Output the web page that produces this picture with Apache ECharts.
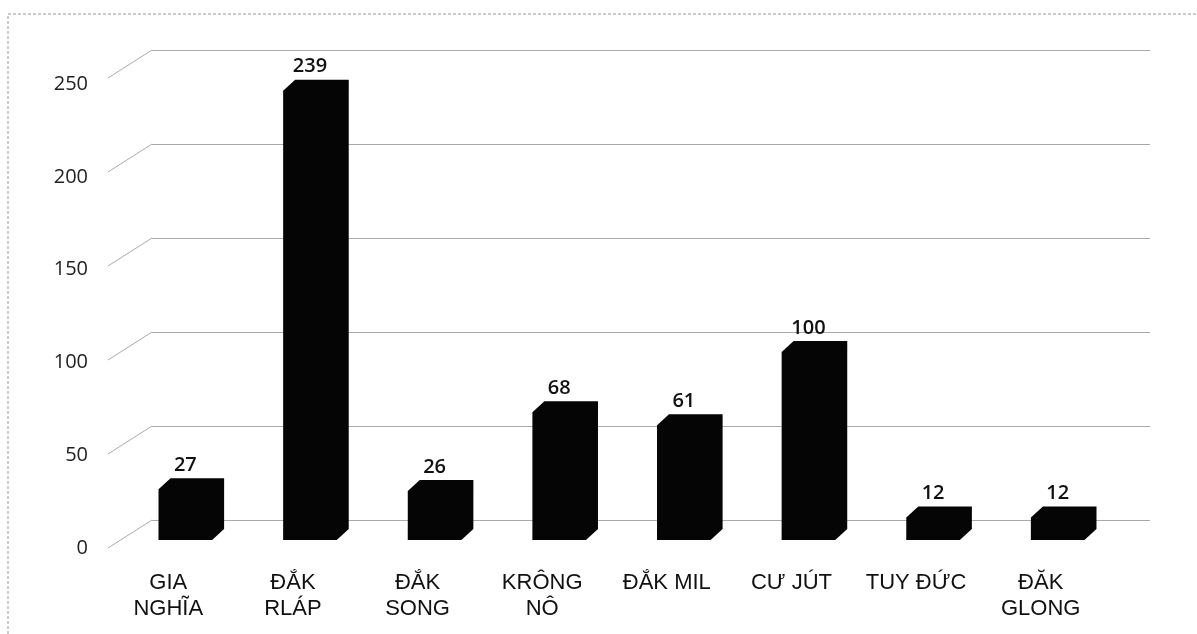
<!DOCTYPE html>
<html>
<head>
<meta charset="utf-8">
<script src="https://cdn.jsdelivr.net/npm/echarts@6/dist/echarts.min.js"></script>
<style>
  html, body { margin: 0; padding: 0; background: #fff; }
  #chart { width: 1197px; height: 634px; }
</style>
</head>
<body>
<div id="chart"></div>
<script>
const categories = ['GIA\nNGHĨA', 'ĐẮK\nRLÁP', 'ĐẮK\nSONG', 'KRÔNG\nNÔ', 'ĐẮK MIL', 'CƯ JÚT', 'TUY ĐỨC', 'ĐĂK\nGLONG']
const values = [27, 239, 26, 68, 61, 100, 12, 12]
const yTicks = [0, 50, 100, 150, 200, 250]

const chart = echarts.init(document.getElementById('chart'))

// độ sâu giả 3D
const barDx = 12, barDy = 11
const floorDx = 44, floorDy = 28

const option = {
  animation: false,
  graphic: [
    {
      type: 'polyline',
      shape: { points: [[8, 634], [8, 14], [1197, 14]] },
      style: { stroke: '#999', lineWidth: 1, lineDash: [3, 2], fill: null }
    }
  ],
  grid: [
    // mặt sau (đường lưới)
    { left: 152, right: 47, top: 50, bottom: 114 },
    // mặt trước của cột
    { left: 123, right: 77, top: 70, bottom: 94 },
    // mép trước (nhãn trục)
    { left: 106, right: 94, top: 84, bottom: 86 }
  ],
  xAxis: [
    { gridIndex: 0, type: 'value', min: 0, max: 1, show: false },
    { gridIndex: 1, type: 'category', data: categories, show: false },
    {
      gridIndex: 2, type: 'category', data: categories,
      axisLine: { show: false }, axisTick: { show: false },
      axisLabel: {
        margin: 22, fontSize: 22, lineHeight: 26, color: '#111',
        fontFamily: 'Liberation Sans, Arial, sans-serif', interval: 0
      }
    }
  ],
  yAxis: [
    {
      gridIndex: 0, type: 'value', min: 0, max: 250, interval: 50,
      axisLabel: { show: false }, axisLine: { show: false }, axisTick: { show: false },
      splitLine: { lineStyle: { color: '#aaa', width: 1 } }
    },
    { gridIndex: 1, type: 'value', min: 0, max: 250, interval: 50, show: false },
    {
      gridIndex: 2, type: 'value', min: 0, max: 250, interval: 50,
      axisLine: { show: false }, axisTick: { show: false }, splitLine: { show: false },
      axisLabel: { margin: 18, fontSize: 20, color: '#222', fontFamily: 'Open Sans, Noto Sans, sans-serif' }
    }
  ],
  series: [
    {
      // đường chéo nối lưới sau với mép trước
      type: 'custom',
      xAxisIndex: 0, yAxisIndex: 0,
      data: yTicks.map(v => [0, v]),
      silent: true,
      renderItem: (params, api) => {
        const p = api.coord([0, api.value(1)])
        return {
          type: 'line',
          shape: { x1: p[0], y1: p[1], x2: p[0] - floorDx, y2: p[1] + floorDy },
          style: { stroke: '#aaa', lineWidth: 1 }
        }
      }
    },
    {
      type: 'custom',
      xAxisIndex: 1, yAxisIndex: 1,
      data: values.map((v, i) => [i, v]),
      renderItem: (params, api) => {
        const base = api.coord([api.value(0), 0])
        const top = api.coord([api.value(0), api.value(1)])
        const bw = api.size([1, 0])[0] * 0.43
        const x0 = base[0] - bw / 2, x1 = base[0] + bw / 2
        const y0 = base[1], y1 = top[1]
        return {
          type: 'group',
          children: [
            {
              type: 'polygon',
              shape: {
                points: [
                  [x0, y0], [x0, y1], [x0 + barDx, y1 - barDy],
                  [x1 + barDx, y1 - barDy], [x1 + barDx, y0 - barDy], [x1, y0]
                ]
              },
              style: { fill: '#050505' }
            },
            {
              type: 'text',
              style: {
                text: String(api.value(1)),
                x: base[0], y: y1 - barDy - 3,
                align: 'center', verticalAlign: 'bottom',
                fontSize: 20, fontWeight: 600, fill: '#111',
                fontFamily: 'Open Sans, Noto Sans, sans-serif'
              }
            }
          ]
        }
      }
    }
  ]
}

chart.setOption(option)
</script>
</body>
</html>
